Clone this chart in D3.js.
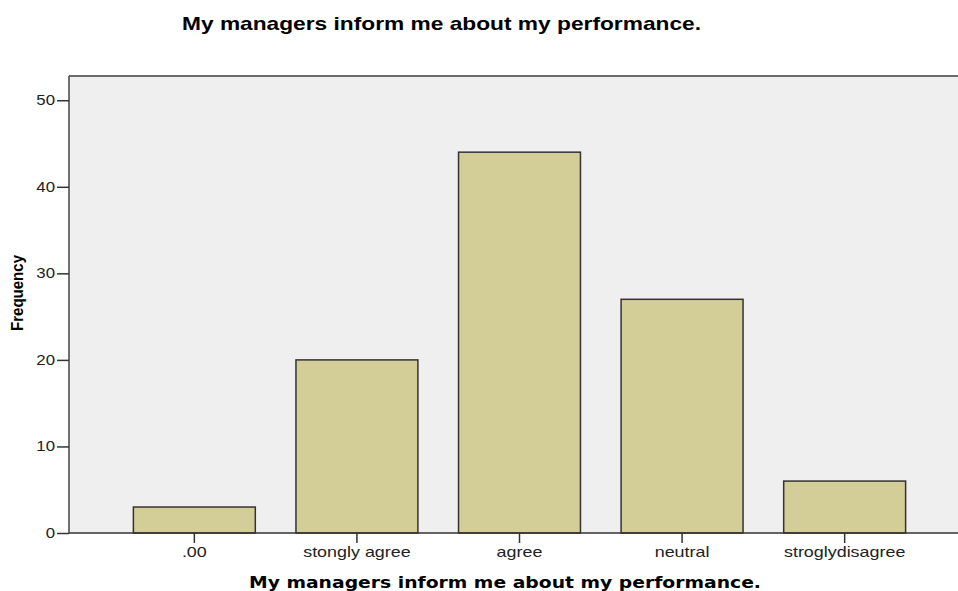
<!DOCTYPE html>
<html>
<head>
<meta charset="utf-8">
<script src="https://cdnjs.cloudflare.com/ajax/libs/d3/7.8.5/d3.min.js"></script>
<style>
body { margin: 0; background: #fff; }
</style>
</head>
<body>
<div id="chart"></div>
<script>
// data
var categories = [".00", "stongly agree", "agree", "neutral", "stroglydisagree"];
var frequencies = [3, 20, 44, 27, 6];
var yTicks = [0, 10, 20, 30, 40, 50];

var width = 958, height = 591;
var plot = { left: 69, top: 76, right: 970, bottom: 533 };

var svg = d3.select("#chart")
    .append("svg")
    .attr("width", width)
    .attr("height", height);

var x = d3.scaleBand()
    .domain(categories)
    .range([plot.left, plot.right])
    .paddingInner(0.25)
    .paddingOuter(0.396);

var y = d3.scaleLinear()
    .domain([0, 52.8])
    .range([plot.bottom, plot.top]);

// plot background
svg.append("rect")
    .attr("x", plot.left)
    .attr("y", plot.top)
    .attr("width", plot.right - plot.left)
    .attr("height", plot.bottom - plot.top)
    .style("fill", "#efefef");

// bars
svg.selectAll("rect.bar")
    .data(frequencies)
    .enter()
    .append("rect")
    .attr("class", "bar")
    .attr("x", function(d, i) { return x(categories[i]); })
    .attr("y", function(d) { return y(d); })
    .attr("width", x.bandwidth())
    .attr("height", function(d) { return y(0) - y(d); })
    .style("fill", "#d3cd98")
    .style("stroke", "#333")
    .style("stroke-width", 1.5);

// frame lines (top and left)
svg.append("line")
    .attr("x1", plot.left).attr("x2", width)
    .attr("y1", plot.top).attr("y2", plot.top)
    .style("stroke", "#6a6a6a").style("stroke-width", 2);
svg.append("line")
    .attr("x1", plot.left).attr("x2", plot.left)
    .attr("y1", plot.top).attr("y2", plot.bottom)
    .style("stroke", "#444").style("stroke-width", 1.5);

// y axis
var ySx = 1.2;
var yAxis = svg.append("g")
    .attr("transform", "translate(" + plot.left + ",0)")
    .call(d3.axisLeft(y).tickValues(yTicks).tickSize(12).tickPadding(2).tickFormat(d3.format("d")));
yAxis.select(".domain").remove();
yAxis.selectAll("line").style("stroke", "#333").style("stroke-width", 1.5);
yAxis.selectAll("text")
    .attr("x", -14 / ySx)
    .attr("transform", "scale(" + ySx + ",1)")
    .style("font-family", "'Liberation Sans', Arial, sans-serif")
    .style("font-size", "14px")
    .style("fill", "#222");

// x axis
var xSx = 1.28;
var xAxis = svg.append("g")
    .attr("transform", "translate(0," + plot.bottom + ")")
    .call(d3.axisBottom(x).tickSize(10).tickPadding(4));
xAxis.select(".domain")
    .attr("d", "M" + plot.left + ",0H" + width)
    .style("stroke", "#333").style("stroke-width", 1.5);
xAxis.selectAll("line").style("stroke", "#333").style("stroke-width", 1.5);
xAxis.selectAll("text")
    .attr("transform", "scale(" + xSx + ",1)")
    .style("font-family", "'Liberation Sans', Arial, sans-serif")
    .style("font-size", "14px")
    .style("fill", "#222");

// titles
svg.append("text")
    .attr("x", 441.5)
    .attr("y", 30)
    .attr("text-anchor", "middle")
    .attr("textLength", 519)
    .attr("lengthAdjust", "spacingAndGlyphs")
    .style("font-family", "'Liberation Sans', Arial, sans-serif")
    .style("font-weight", "bold")
    .style("font-size", "19px")
    .text("My managers inform me about my performance.");

svg.append("text")
    .attr("x", 505)
    .attr("y", 588)
    .attr("text-anchor", "middle")
    .attr("textLength", 512)
    .attr("lengthAdjust", "spacingAndGlyphs")
    .style("font-family", "'DejaVu Sans', Verdana, sans-serif")
    .style("font-weight", "bold")
    .style("font-size", "16px")
    .text("My managers inform me about my performance.");

svg.append("text")
    .attr("transform", "translate(23,293) rotate(-90)")
    .attr("text-anchor", "middle")
    .attr("textLength", 76)
    .attr("lengthAdjust", "spacingAndGlyphs")
    .style("font-family", "'Liberation Sans', Arial, sans-serif")
    .style("font-weight", "bold")
    .style("font-size", "17px")
    .text("Frequency");
</script>
</body>
</html>
